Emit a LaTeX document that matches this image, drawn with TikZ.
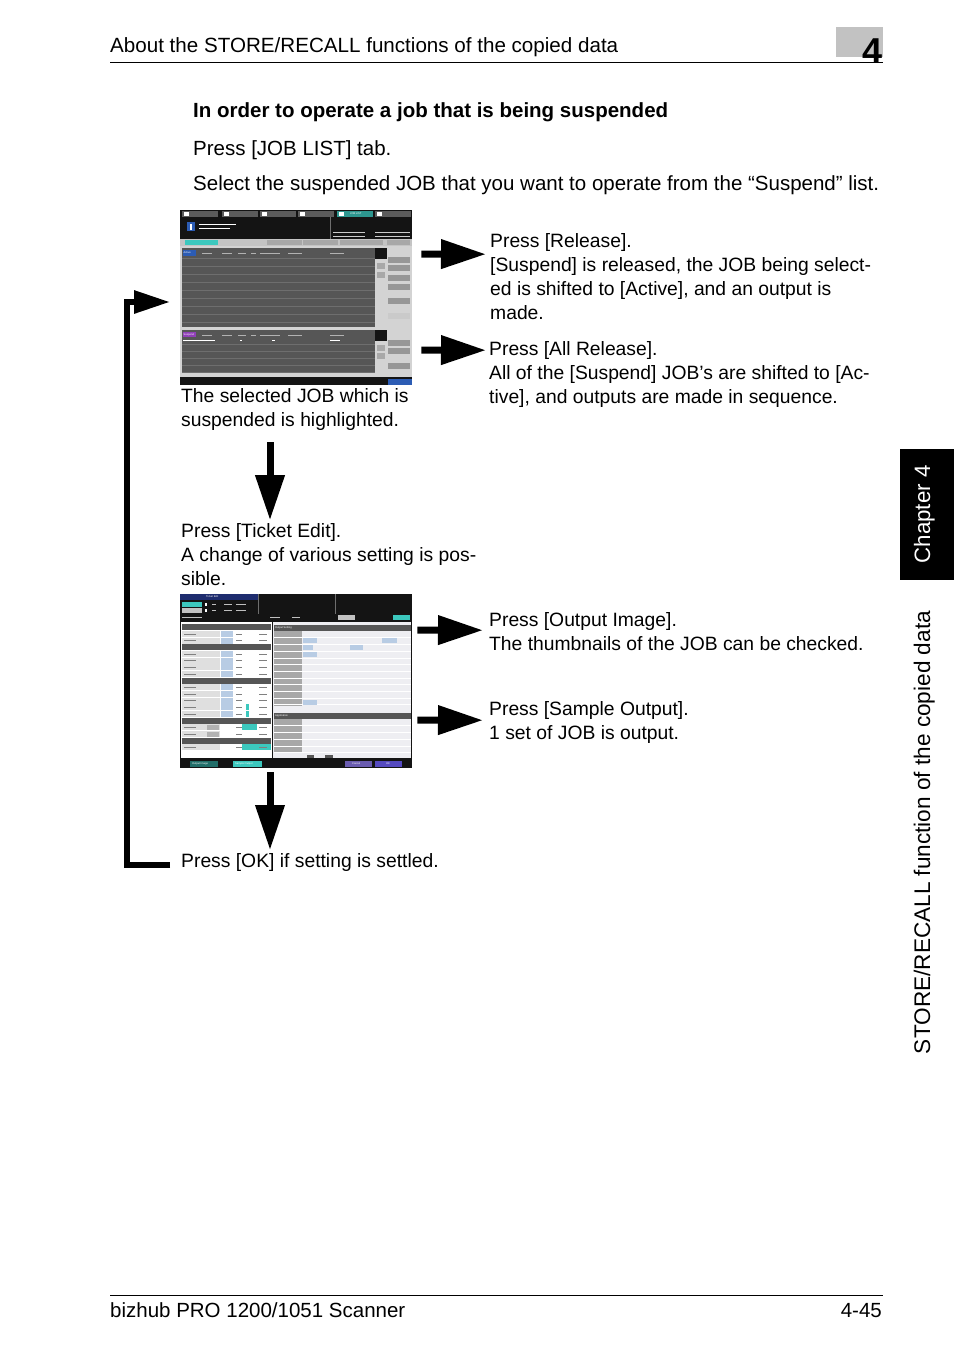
\documentclass[tikz,border=0pt]{standalone}
\usepackage{fontspec}
\setmainfont{Liberation Sans}
\usetikzlibrary{arrows.meta, positioning, calc}

\definecolor{scrdark}{HTML}{141414}
\definecolor{scrpanel}{HTML}{565656}
\definecolor{scrline}{HTML}{6E6E6E}
\definecolor{scrgray}{HTML}{C4C4C4}
\definecolor{scrbtn}{HTML}{A8A8A8}
\definecolor{scrteal}{HTML}{3CC8BE}
\definecolor{scrblue}{HTML}{2C5CB4}
\definecolor{scrpurple}{HTML}{9040B8}
\definecolor{scrnavy}{HTML}{1E2C6E}
\definecolor{scrpale}{HTML}{EEEEF2}
\definecolor{scrcell}{HTML}{B8CCE4}
\definecolor{scrviolet}{HTML}{6A5CB0}
\definecolor{tabgray}{HTML}{C2C2C2}

\newcommand{\bodyfont}{\fontsize{20.5}{24}\selectfont}
\newcommand{\stepfont}{\fontsize{19.3}{24}\selectfont}

\tikzset{
  body/.style={font=\stepfont, inner sep=0pt, align=left, anchor=north west},
  line1/.style={font=\bodyfont, inner sep=0pt, anchor=base west},
  bigarrow/.style={line width=7pt, -{Triangle[length=45pt, width=28pt]}},
  looparrow/.style={line width=6pt, -{Triangle[length=36pt, width=22pt]}},
  screen/.style={inner sep=0pt, minimum width=232pt, minimum height=175pt, anchor=north west},
  tiny/.style={font=\fontsize{2.6}{3}\selectfont, inner sep=0pt, white, anchor=west},
}

\begin{document}
\begin{tikzpicture}[x=1pt, y=-1pt]
    \useasboundingbox (0,0) rectangle (954,1352);

    % Page header
    \node[line1, font=\fontsize{20.6}{24}\selectfont] (head) at (110,52) {About the STORE/RECALL functions of the copied data};
    \fill[tabgray] (836,27) rectangle (883,57);
    \node[inner sep=0pt, anchor=base east, font=\fontsize{36}{36}\selectfont\bfseries] (chapno) at (883,63) {4};
    \draw[line width=1pt] (110,62.5) -- (883,62.5);

    % Heading and steps
    \node[line1, font=\bodyfont\bfseries] (title) at (193,117) {In order to operate a job that is being suspended};
    \node[line1] (joblist) at (193,155) {Press [JOB LIST] tab.};
    \node[line1] (select) at (193,190) {Select the suspended JOB that you want to operate from the “Suspend” list.};

    % Screen 1: job list
    \node[screen] (scr1) at (180,210) {};
    \begin{scope}[shift={(scr1.north west)}]
        \fill[scrdark] (0,0) rectangle (232,175);
        \foreach \x in {2,42,80,118,195} {
            \fill[scrbtn!55!black] (\x,0.5) rectangle ++(36,6.5);
            \fill[white] (\x+2,1.5) rectangle ++(5,4.5);
        }
        \fill[scrteal!75!black] (157,0.5) rectangle ++(36,6.5);
        \fill[white] (159,1.5) rectangle ++(5,4.5);
        \node[tiny] at (170,3.7) {JOB LIST};
        % message area
        \fill[scrblue] (7,12) rectangle (15,21);
        \fill[white] (10,13.5) rectangle (12,19.5);
        \draw[white, line width=0.8pt] (19,14) -- (56,14) (19,18) -- (50,18);
        \draw[scrline] (150,7) -- (150,29);
        \foreach \y in {22,26} \draw[white!80!black, line width=0.6pt] (153,\y) -- (185,\y) (195,\y) -- (230,\y);
        % tab row
        \fill[scrgray] (0,29) rectangle (232,36);
        \fill[scrteal] (5,30) rectangle (38,35);
        \foreach \a/\b in {87/122,123/158,160/203,207/230}
            \fill[scrbtn] (\a,30) rectangle (\b,35);
        \fill[scrgray!75] (0,36) rectangle (232,167);
        % active list
        \fill[scrpanel] (2,38) rectangle (195,117);
        \foreach \y in {48,56,...,112} \draw[scrline] (2,\y) -- (195,\y);
        \fill[scrblue] (3,40) rectangle (16,46);
        \node[tiny] at (3.5,43) {Active};
        \draw[white!70!black, line width=0.5pt] (22,43) -- (32,43) (42,43) -- (52,43) (58,43) -- (66,43) (71,43) -- (76,43) (80,43) -- (100,43) (108,43) -- (122,43) (150,43) -- (164,43);
        % suspend list
        \fill[scrpanel] (2,120) rectangle (195,163);
        \foreach \y in {134,141,...,162} \draw[scrline] (2,\y) -- (195,\y);
        \fill[scrpurple] (3,122) rectangle (16,127);
        \node[tiny] at (3.5,124.5) {Suspend};
        \draw[white!70!black, line width=0.5pt] (22,125) -- (32,125) (42,125) -- (52,125) (58,125) -- (66,125) (71,125) -- (76,125) (80,125) -- (100,125) (108,125) -- (122,125) (150,125) -- (164,125);
        \draw[white, line width=0.6pt] (3,130.5) -- (35,130.5) (60,130.5) -- (62,130.5) (92,130.5) -- (95,130.5) (150,130.5) -- (160,130.5);
        % right controls
        \foreach \y in {38,120} \fill[scrdark] (195,\y) rectangle ++(12,11);
        \foreach \y in {53,62,135,143} \fill[scrbtn] (197,\y) rectangle ++(8,5.5);
        \foreach \y in {47,55,65,74,88,130,138,153} \fill[scrbtn!90!black] (208,\y) rectangle ++(22,6);
        \fill[scrgray!90] (208,103) rectangle ++(22,6);
        % status bar
        \fill[scrblue] (208,169) rectangle (232,175);
    \end{scope}

    \node[body] (hl) at (181,385.2) {\strut The selected JOB which is\\suspended is highlighted.};
    \node[body] (rel) at (490,230.2) {\strut Press [Release].\\{}[Suspend] is released, the JOB being select-\\ed is shifted to [Active], and an output is\\made.};
    \node[body] (arel) at (489,338.2) {\strut Press [All Release].\\All of the [Suspend] JOB’s are shifted to [Ac-\\tive], and outputs are made in sequence.};

    \node[body] (tke) at (181,520.2) {\strut Press [Ticket Edit].\\A change of various setting is pos-\\sible.};

    % Screen 2: ticket edit
    \node[screen, minimum height=174pt] (scr2) at (180,594) {};
    \begin{scope}[shift={(scr2.north west)}]
        \fill[scrdark] (0,0) rectangle (232,174);
        \fill[scrnavy] (0,0) rectangle (78,6);
        \node[tiny] at (26,3) {Ticket Edit};
        \draw[scrline] (78,0) -- (78,20) (155,0) -- (155,20);
        \fill[scrteal] (2,8) rectangle (22,12.5);
        \fill[scrbtn!70] (2,14) rectangle (22,18.5);
        \foreach \y in {8.5,14.5} {
            \fill[white] (25,\y) rectangle ++(2,3.5);
            \draw[white!75!black, line width=0.5pt] (32,\y+1.8) -- (36,\y+1.8) (44,\y+1.8) -- (52,\y+1.8) (56,\y+1.8) -- (66,\y+1.8);
        }
        \draw[white!75!black, line width=0.5pt] (2,23.5) -- (22,23.5) (90,23.5) -- (100,23.5) (112,23.5) -- (120,23.5);
        \fill[scrbtn!70] (158,21) rectangle (175,26);
        \fill[scrteal] (213,21) rectangle (230,26);
        % left panel
        \fill[white] (1,28) rectangle (92,164);
        \foreach \i in {1,2,4,5,6,7,9,10,11,12,13,15,16,18}
            \fill[gray!25] (2,30.3+\i*6.67) rectangle ++(38,6);
        \foreach \i in {0,3,8,14,17}
            \fill[scrpanel] (2,30.3+\i*6.67) rectangle ++(89,6);
        \foreach \i in {1,2,4,5,6,7,9,10,11,12,13}
            \fill[scrcell] (40.5,30.3+\i*6.67) rectangle ++(12.5,6);
        \foreach \i in {15,16}
            \fill[gray!60] (27,30.8+\i*6.67) rectangle ++(12,5);
        \foreach \i in {12,13}
            \fill[scrteal] (66,30.3+\i*6.67) rectangle ++(3,6);
        \fill[scrteal] (62,130.3) rectangle ++(15,6);
        \fill[scrteal] (62,150.3) rectangle ++(29,6);
        \foreach \i in {1,2,4,5,6,7,9,10,11,12,13,15,16,18}
            \draw[gray, line width=0.4pt] (4,33.3+\i*6.67) -- (16,33.3+\i*6.67) (56,33.3+\i*6.67) -- (62,33.3+\i*6.67) (79,33.3+\i*6.67) -- (87,33.3+\i*6.67);
        \draw[scrdark, line width=1pt] (92.5,28) -- (92.5,165);
        % right panel
        \fill[scrpale] (93,28) rectangle (231,164);
        \fill[scrpanel] (94,31) rectangle (231,36.5);
        \node[tiny] at (95,33.7) {Output Setting};
        \fill[scrbtn] (94,37) rectangle (122,112);
        \foreach \y in {43.6,50.3,...,112} \draw[white] (94,\y) -- (231,\y);
        \fill[scrcell] (123,44) rectangle (137,49);
        \fill[scrcell] (202,44) rectangle (217,49);
        \fill[scrcell] (123,51) rectangle (133,56);
        \fill[scrcell] (170,51) rectangle (183,56);
        \fill[scrcell] (123,58) rectangle (137,63);
        \fill[scrcell] (123,106) rectangle (137,111);
        \fill[scrpanel] (94,119) rectangle (231,124.5);
        \node[tiny] at (95,121.7) {Application};
        \fill[scrbtn] (94,125) rectangle (122,159);
        \foreach \y in {131.6,138.3,...,159} \draw[white] (94,\y) -- (231,\y);
        \fill[scrpanel] (127,160.5) rectangle (134,163.5);
        \fill[scrpanel] (145,160.5) rectangle (153,163.5);
        % bottom bar
        \fill[scrteal!55!black] (10,167) rectangle (38,173);
        \node[tiny] at (12,170) {Output Image};
        \fill[scrteal] (53,167) rectangle (82,173);
        \node[tiny] at (55,170) {Sample Output};
        \fill[scrviolet] (165,167) rectangle (192,173);
        \node[tiny] at (172,170) {Cancel};
        \fill[scrviolet!80!blue] (195,167) rectangle (222,173);
        \node[tiny] at (206,170) {OK};
    \end{scope}

    \node[body] (oim) at (489,609.2) {\strut Press [Output Image].\\The thumbnails of the JOB can be checked.};
    \node[body] (smp) at (489,698.2) {\strut Press [Sample Output].\\1 set of JOB is output.};
    \node[line1, font=\stepfont] (ok) at (181,867) {Press [OK] if setting is settled.};

    % Arrows
    \draw[bigarrow] ([shift={(9,44)}]scr1.north east) -- ([shift={(-4,24)}]rel.north west);
    \draw[bigarrow] ([shift={(9,140)}]scr1.north east) -- ([shift={(-3,12)}]arel.north west);
    \draw[bigarrow] ([shift={(5,36)}]scr2.north east) -- ([shift={(-6,21)}]oim.north west);
    \draw[bigarrow] ([shift={(5,126)}]scr2.north east) -- ([shift={(-6,22)}]smp.north west);
    \draw[bigarrow] ([shift={(89,57)}]hl.north west) -- ([shift={(89,0)}]tke.north west);
    \draw[bigarrow] ([shift={(90,4)}]scr2.south west) -- ([shift={(89,-17)}]ok.base west);
    \draw[looparrow] ([shift={(-11,-2)}]ok.base west) -| ([shift={(-53,92)}]scr1.north west) -- ([shift={(-10,92)}]scr1.north west);

    % Side tab
    \fill (900,449) rectangle (954,580);
    \node[rotate=90, anchor=base, inner sep=0pt, text=white, font=\fontsize{22.3}{24}\selectfont] (tabchap) at (930,514.5) {Chapter 4};
    \node[rotate=90, anchor=base, inner sep=0pt, font=\fontsize{22.6}{24}\selectfont] (tabtitle) at (930,832.5) {STORE/RECALL function of the copied data};

    % Page footer
    \draw[line width=0.8pt] (110,1295) -- (883,1295);
    \node[line1] (foot) at (110,1317) {bizhub PRO 1200/1051 Scanner};
    \node[line1, anchor=base east] (pageno) at (882,1317) {4-45};
\end{tikzpicture}
\end{document}
